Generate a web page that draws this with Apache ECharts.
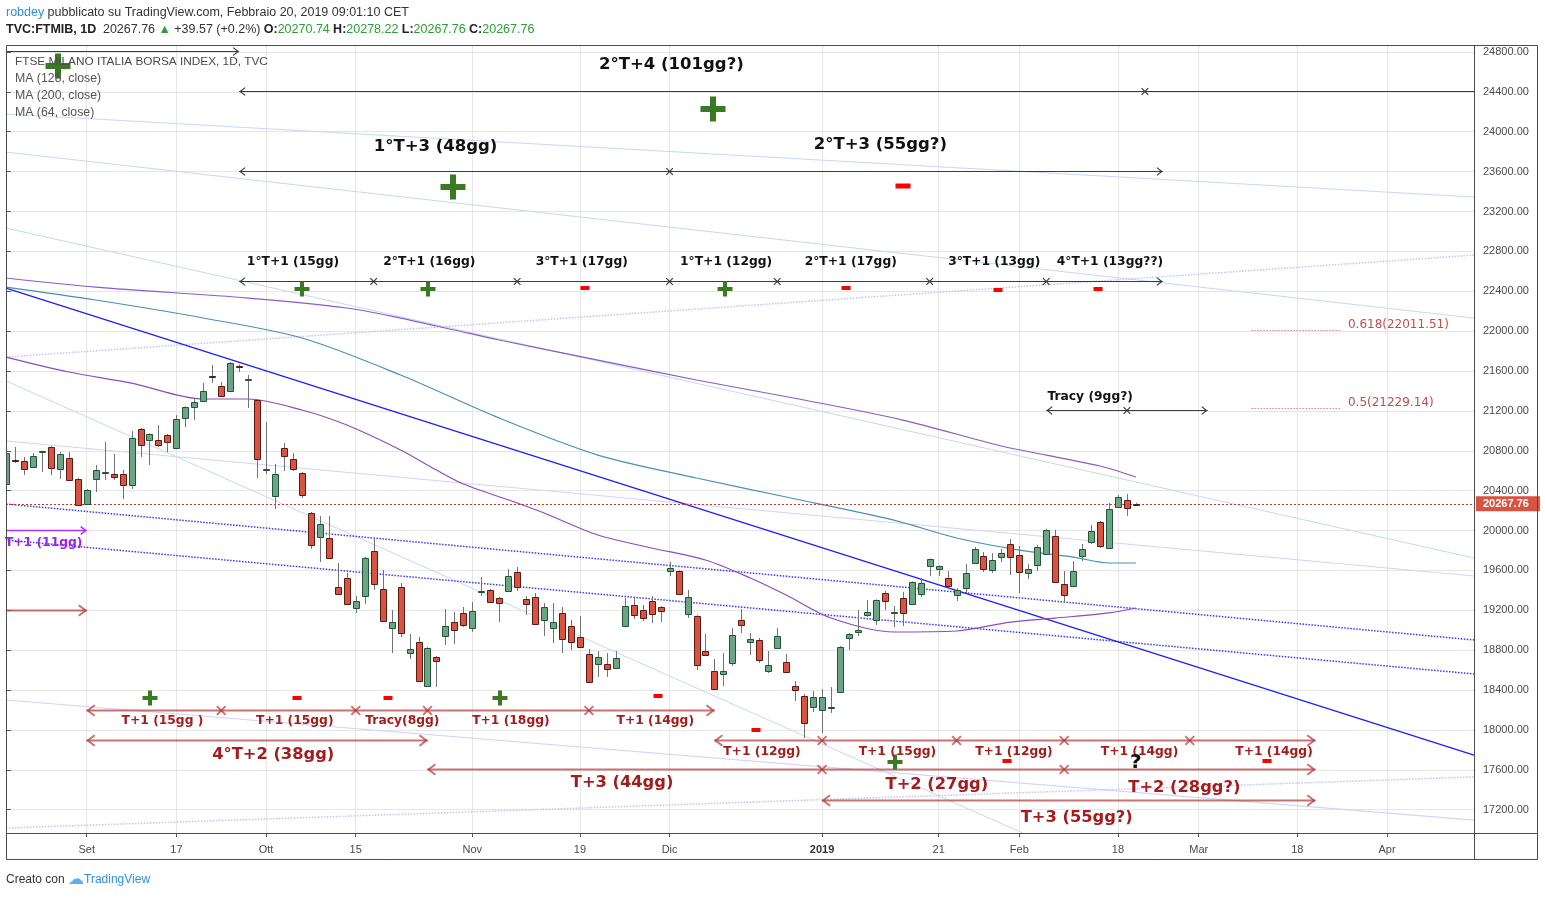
<!DOCTYPE html>
<html>
<head>
<meta charset="utf-8">
<title>FTSE MIB - cicli</title>
<script src="https://cdn.jsdelivr.net/npm/echarts@6/dist/echarts.min.js"></script>
<style>
  html, body { margin: 0; padding: 0; background: #fff; }
  #chart { width: 1545px; height: 898px; }
</style>
</head>
<body>
<div id="chart"></div>
<script>
  // one row per trading day, index 0 = 21 Aug 2018 ... 126 = 20 Feb 2019
  // [open, high, low, close]
  const candles = [
    [20466, 20787, 20456, 20777], [20712, 20838, 20677, 20702], [20697, 20737, 20557, 20617],
    [20637, 20777, 20630, 20747], [20787, 20800, 20587, 20797], [20838, 20848, 20557, 20627],
    [20617, 20787, 20517, 20767], [20727, 20787, 20500, 20507], [20517, 20530, 20246, 20256],
    [20266, 20416, 20256, 20406], [20517, 20657, 20386, 20607], [20580, 20888, 20507, 20590],
    [20567, 20767, 20507, 20537], [20567, 20607, 20316, 20457], [20457, 20998, 20417, 20928],
    [21018, 21028, 20737, 20858], [20908, 20975, 20657, 20968], [20908, 21058, 20838, 20858],
    [20958, 20968, 20787, 20888], [20828, 21158, 20818, 21118], [21128, 21245, 21038, 21239],
    [21239, 21329, 21108, 21289], [21299, 21480, 21295, 21400], [21545, 21660, 21480, 21535],
    [21450, 21490, 21345, 21349], [21400, 21690, 21395, 21680], [21655, 21665, 21590, 21645],
    [21505, 21560, 21229, 21515], [21309, 21320, 20527, 20717], [20605, 21088, 20567, 20615],
    [20346, 20667, 20216, 20567], [20828, 20878, 20597, 20747], [20717, 20777, 20597, 20617],
    [20577, 20587, 20326, 20356], [20176, 20186, 19815, 19855], [19935, 20146, 19684, 20065],
    [19925, 20146, 19720, 19724], [19434, 19674, 19360, 19364], [19524, 19574, 19255, 19263],
    [19223, 19343, 19173, 19293], [19343, 19734, 19263, 19724], [19794, 19915, 19404, 19464],
    [19414, 19604, 19085, 19093], [19022, 19203, 18771, 19082], [19434, 19474, 18932, 18972],
    [18771, 18962, 18711, 18811], [18882, 18932, 18485, 18490], [18440, 18831, 18430, 18821],
    [18731, 18741, 18430, 18691], [18942, 19213, 18852, 19042], [19082, 19183, 18862, 19002],
    [19173, 19233, 19032, 19052], [19022, 19283, 18982, 19193], [19385, 19534, 19343, 19395],
    [19404, 19414, 19275, 19283], [19323, 19333, 19082, 19273], [19394, 19614, 19385, 19544],
    [19584, 19634, 19394, 19434], [19313, 19343, 19153, 19263], [19333, 19373, 19055, 19062],
    [19103, 19273, 18942, 19233], [19022, 19273, 18872, 19082], [19173, 19233, 18771, 18912],
    [19042, 19103, 18801, 18882], [18932, 19143, 18825, 18831], [18761, 18811, 18470, 18480],
    [18661, 18791, 18531, 18731], [18661, 18771, 18531, 18611], [18621, 18791, 18611, 18721],
    [19042, 19323, 19035, 19243], [19253, 19323, 19113, 19153], [19203, 19253, 19093, 19123],
    [19293, 19343, 19072, 19163], [19233, 19240, 19082, 19193], [19594, 19684, 19544, 19624],
    [19594, 19600, 19355, 19364], [19163, 19404, 19123, 19333], [19143, 19150, 18601, 18651],
    [18791, 18962, 18745, 18751], [18591, 18711, 18405, 18410], [18561, 18771, 18440, 18591],
    [18671, 19022, 18641, 18952], [19103, 19213, 18972, 19052], [18882, 18972, 18751, 18912],
    [18902, 18922, 18671, 18701], [18591, 18791, 18571, 18651], [18821, 19022, 18815, 18942],
    [18681, 18761, 18575, 18581], [18440, 18490, 18290, 18400], [18340, 18360, 17919, 18069],
    [18230, 18390, 18180, 18330], [18200, 18410, 17969, 18330], [18215, 18430, 18170, 18225],
    [18380, 18840, 18375, 18831], [18922, 18972, 18801, 18962], [18982, 19203, 18942, 19002],
    [19153, 19303, 19133, 19183], [19103, 19310, 19052, 19303], [19373, 19394, 19203, 19293],
    [19168, 19243, 19032, 19178], [19323, 19384, 19042, 19173], [19263, 19490, 19253, 19484],
    [19364, 19524, 19333, 19474], [19644, 19720, 19544, 19714], [19614, 19650, 19544, 19644],
    [19524, 19594, 19435, 19444], [19354, 19424, 19293, 19404], [19424, 19664, 19373, 19574],
    [19674, 19835, 19664, 19815], [19744, 19784, 19584, 19614], [19604, 19774, 19574, 19704],
    [19734, 19815, 19684, 19774], [19865, 19915, 19554, 19734], [19754, 19845, 19373, 19584],
    [19574, 19664, 19514, 19614], [19654, 19855, 19594, 19835], [19764, 20018, 19755, 20008],
    [19945, 20008, 19475, 19484], [19464, 19594, 19283, 19354], [19444, 19694, 19435, 19594],
    [19744, 19865, 19694, 19815], [19885, 20055, 19865, 19995], [20085, 20095, 19825, 19845],
    [19827, 20276, 19820, 20216], [20236, 20356, 20230, 20336], [20306, 20366, 20146, 20228.19],
    [20270.74, 20278.22, 20267.76, 20267.76]
  ];
  const lastPrice = 20267.76;

  // time axis: trading-day index of each label
  const xTickPos = [9, 19, 29, 39, 52, 64, 74, 91, 104, 113, 124, 133, 144, 154];
  const xTickText = ['Set', '17', 'Ott', '15', 'Nov', '19', 'Dic', '2019', '21', 'Feb', '18', 'Mar', '18', 'Apr'];
  const xEnd = 163.7;
  const yTicks = [17200, 17600, 18000, 18400, 18800, 19200, 19600, 20000, 20400, 20800,
                  21200, 21600, 22000, 22400, 22800, 23200, 23600, 24000, 24400, 24800];

  // moving averages: [day index, value]
  const ma128 = [[0, 22442], [10, 22312], [22, 22132], [33, 21931], [44, 21560], [55, 21128],
                 [66, 20757], [77, 20527], [87, 20336], [99, 20105], [106, 19925], [113, 19804],
                 [119, 19734], [123, 19674], [126, 19674]];
  const ma200 = [[0, 22533], [10, 22442], [27, 22332], [38, 22232], [44, 22131], [50, 22011],
                 [55, 21911], [66, 21710], [77, 21510], [89, 21309], [100, 21108], [111, 20848],
                 [116, 20757], [122, 20647], [126, 20537]];
  const ma64 = [[0, 21740], [7, 21590], [14, 21479], [22, 21319], [27, 21319], [33, 21209],
                [38, 21058], [44, 20808], [48, 20607], [51, 20467], [57, 20276], [60, 20176],
                [66, 19955], [72, 19825], [78, 19704], [83, 19524], [87, 19353], [92, 19122],
                [99, 18982], [106, 18992], [112, 19082], [117, 19122], [123, 19173], [126, 19223]];

  // trend lines: [from index, from value, to index, to value]
  const blueLines = [[0, 22432, xEnd, 17748]];
  const blueDotted = [[0, 20266, xEnd, 18902], [0, 19905, xEnd, 18561]];
  const paleBlueLines = [[0, 24178, xEnd, 23345], [0, 23796, xEnd, 22131],
                         [0, 23034, xEnd, 19724], [0, 21500, 115, 16900]];
  const lavenderLines = [[0, 20898, xEnd, 19544], [0, 18300, xEnd, 17096]];
  const lavenderDotted = [[0, 21740, xEnd, 22763], [0, 17016, xEnd, 17528]];

  // fibonacci levels
  const fibRatios = ['0.618', '0.5'];
  const fibPrices = [22011.51, 21229.14];
  const fibSpan = [138.9, 148.75];

  // cycle arrows: [from, to, value, heads, cross marks]
  const blackArrows = [
    [0, 26, 24810, 'R', []],
    [26, xEnd, 24408, 'L', [127]],
    [26, 129, 23606, 'LR', [74]],
    [26, 129, 22503, 'LR', [41, 57, 74, 86, 103, 116]],
    [116, 134, 21209, 'LR', [125]]
  ];
  const redArrows = [
    [0, 9, 19203, 'R', []],
    [9, 79, 18200, 'LR', [24, 39, 47, 65]],
    [9, 47, 17899, 'LR', []],
    [79, 146, 17899, 'LR', [91, 106, 118, 132]],
    [47, 146, 17605, 'LR', [91, 118]],
    [91, 146, 17297, 'LR', []]
  ];
  const purpleArrows = [[0, 9, 20005, 'R', []]];

  // labels: [index, value, text]
  const bigBlackLabels = [[74.2, 24669, '2°T+4 (101gg?)'], [47.9, 23847, '1°T+3 (48gg)'],
                          [97.5, 23867, '2°T+3 (55gg?)']];
  const smallBlackLabels = [[32.0, 22693, '1°T+1 (15gg)'], [47.2, 22693, '2°T+1 (16gg)'],
                            [64.2, 22693, '3°T+1 (17gg)'], [80.3, 22693, '1°T+1 (12gg)'],
                            [94.2, 22693, '2°T+1 (17gg)'], [110.2, 22693, '3°T+1 (13gg)'],
                            [123.1, 22693, '4°T+1 (13gg??)'], [120.9, 21339, 'Tracy (9gg?)']];
  const smallRedLabels = [[17.45, 18089, 'T+1 (15gg )'], [32.2, 18089, 'T+1 (15gg)'],
                          [44.2, 18089, 'Tracy(8gg)'], [56.3, 18089, 'T+1 (18gg)'],
                          [72.4, 18089, 'T+1 (14gg)'], [84.3, 17781, 'T+1 (12gg)'],
                          [99.4, 17781, 'T+1 (15gg)'], [112.4, 17781, 'T+1 (12gg)'],
                          [126.4, 17781, 'T+1 (14gg)'], [141.4, 17781, 'T+1 (14gg)']];
  const bigRedLabels = [[29.8, 17748, '4°T+2 (38gg)'], [68.7, 17468, 'T+3 (44gg)'],
                        [103.8, 17448, 'T+2 (27gg)'], [131.4, 17417, 'T+2 (28gg?)'],
                        [119.4, 17116, 'T+3 (55gg?)']];
  const purpleLabels = [[4.2, 19880, 'T+1 (11gg)']];
  const questionMarks = [[126.0, 17668, '?']];

  // cycle signs: [index, value]
  const bigPlus = [[78.8, 24228], [49.8, 23445], [5.8, 24659]];
  const smallPlus = [[33.0, 22422], [47.1, 22422], [80.2, 22422], [16.1, 18320], [55.1, 18320], [99.1, 17678]];
  const bigMinus = [[100.0, 23455]];
  const smallMinus = [[64.6, 22432], [93.7, 22432], [110.6, 22412], [121.8, 22422], [32.5, 18320],
                      [42.6, 18320], [72.7, 18340], [83.6, 18000], [111.6, 17688], [140.6, 17688]];

  const ANN_FONT = '"DejaVu Sans", Verdana, sans-serif';
  const UI_FONT = '"Liberation Sans", Arial, sans-serif';

  function trendSeries(list, color, type, width) {
    return list.map(l => ({
      type: 'line', silent: true, symbol: 'none', z: 2,
      data: [[l[0], l[1]], [l[2], l[3]]],
      lineStyle: { color: color, type: type, width: width }
    }));
  }

  function maSeries(name, data, color) {
    return { name: name, type: 'line', silent: true, symbol: 'none', smooth: 0.3, z: 3,
             data: data, lineStyle: { color: color, width: 1.2 } };
  }

  function arrowSeries(list, color, width, head) {
    return {
      type: 'custom', silent: true, clip: true, z: 15,
      data: list.map(a => [a[0], a[2]]),
      encode: { x: 0, y: 1 },
      renderItem: (params, api) => {
        const [from, to, price, heads, marks] = list[params.dataIndex];
        const a = api.coord([from, price]);
        const b = api.coord([to, price]);
        const y = Math.round(a[1]) + 0.5;
        const st = { stroke: color, lineWidth: width, fill: 'none' };
        const kids = [{ type: 'line', shape: { x1: a[0], y1: y, x2: b[0], y2: y }, style: st }];
        const hw = head * 0.65;
        if (heads.indexOf('L') >= 0) {
          kids.push({ type: 'polyline', shape: { points: [[a[0] + head, y - hw], [a[0] + 1, y], [a[0] + head, y + hw]] }, style: st });
        }
        if (heads.indexOf('R') >= 0) {
          kids.push({ type: 'polyline', shape: { points: [[b[0] - head, y - hw], [b[0] - 1, y], [b[0] - head, y + hw]] }, style: st });
        }
        marks.forEach(m => {
          const x = api.coord([m, price])[0];
          const s = head * 0.55;
          kids.push({ type: 'line', shape: { x1: x - s, y1: y - s, x2: x + s, y2: y + s }, style: st });
          kids.push({ type: 'line', shape: { x1: x - s, y1: y + s, x2: x + s, y2: y - s }, style: st });
        });
        return { type: 'group', children: kids };
      }
    };
  }

  function textSeries(list, color, font) {
    return {
      type: 'custom', silent: true, clip: false, z: 20,
      data: list.map(t => [t[0], t[1]]),
      encode: { x: 0, y: 1 },
      renderItem: (params, api) => {
        const p = api.coord([api.value(0), api.value(1)]);
        return { type: 'text', x: p[0], y: p[1],
                 style: { text: list[params.dataIndex][2], fill: color, font: font, align: 'center', verticalAlign: 'middle' } };
      }
    };
  }

  function signSeries(list, color, size, thick, plus) {
    return {
      type: 'custom', silent: true, clip: false, z: 18,
      data: list,
      encode: { x: 0, y: 1 },
      renderItem: (params, api) => {
        const p = api.coord([api.value(0), api.value(1)]);
        const x = Math.round(p[0]), y = Math.round(p[1]);
        const kids = [{ type: 'rect', shape: { x: x - size / 2, y: y - thick / 2, width: size, height: thick }, style: { fill: color } }];
        if (plus) {
          kids.push({ type: 'rect', shape: { x: x - thick / 2, y: y - size / 2, width: thick, height: size }, style: { fill: color } });
        }
        return { type: 'group', children: kids };
      }
    };
  }

  const candleSeries = {
    type: 'custom', name: 'FTMIB', silent: true, clip: true, z: 10,
    data: candles.map((c, i) => [i, c[0], c[1], c[2], c[3]]),
    encode: { x: 0, y: [1, 2, 3, 4] },
    renderItem: (params, api) => {
      const i = api.value(0);
      const o = api.value(1), h = api.value(2), l = api.value(3), c = api.value(4);
      const po = api.coord([i, o]), pc = api.coord([i, c]);
      const ph = api.coord([i, h]), pl = api.coord([i, l]);
      const up = c >= o;
      const x = Math.round(po[0]);
      const top = Math.round(Math.min(po[1], pc[1]));
      const bot = Math.round(Math.max(po[1], pc[1]));
      return { type: 'group', children: [
        { type: 'line', shape: { x1: x + 0.5, y1: ph[1], x2: x + 0.5, y2: pl[1] }, style: { stroke: '#737375', lineWidth: 1 } },
        { type: 'rect', shape: { x: x - 2.5, y: top + 0.5, width: 6, height: Math.max(bot - top, 1) },
          style: { fill: up ? '#6ba583' : '#d75442', stroke: up ? '#225437' : '#5b1a13', lineWidth: 1 } }
      ] };
    }
  };

  const fibSeries = {
    type: 'custom', silent: true, clip: false, z: 12,
    data: fibPrices.map(p => [fibSpan[0], p]),
    encode: { x: 0, y: 1 },
    renderItem: (params, api) => {
      const price = fibPrices[params.dataIndex];
      const a = api.coord([fibSpan[0], price]), b = api.coord([fibSpan[1], price]);
      const y = Math.round(a[1]) + 0.5;
      return { type: 'group', children: [
        { type: 'line', shape: { x1: a[0], y1: y, x2: b[0], y2: y }, style: { stroke: '#c0504d', lineWidth: 1, lineDash: [1, 2] } },
        { type: 'text', x: b[0] + 8, y: y - 6,
          style: { text: fibRatios[params.dataIndex] + '(' + price.toFixed(2) + ')', fill: '#c0504d',
                   font: '12px ' + ANN_FONT, align: 'left', verticalAlign: 'middle' } }
      ] };
    }
  };

  const priceSeries = {
    type: 'line', silent: true, symbol: 'none', z: 4,
    data: [[candles.length - 1, lastPrice]],
    markLine: {
      silent: true, symbol: ['none', 'none'], animation: false,
      data: [{ yAxis: lastPrice }],
      lineStyle: { color: '#c0392b', type: [2, 2], width: 1 },
      label: { show: true, position: 'end', distance: 2, formatter: lastPrice.toFixed(2),
               backgroundColor: '#d75442', color: '#fff', fontWeight: 'bold', fontSize: 11,
               fontFamily: UI_FONT, padding: [2, 11, 2, 7] }
    }
  };

  const series = [].concat(
    trendSeries(paleBlueLines, '#c7d8f3', 'solid', 1),
    trendSeries(lavenderLines, '#d3d3f7', 'solid', 1.2),
    trendSeries(lavenderDotted, '#c4c4f4', 'dotted', 1.5),
    trendSeries(blueDotted, '#3a3aff', 'dotted', 1.5),
    trendSeries(blueLines, '#1f1fff', 'solid', 1.3),
    [
      maSeries('MA (128, close)', ma128, '#4b8fb3'),
      maSeries('MA (200, close)', ma200, '#8a5cc6'),
      maSeries('MA (64, close)', ma64, '#8c4cbd'),
      priceSeries,
      candleSeries,
      fibSeries,
      arrowSeries(blackArrows, '#3c3c3c', 1.2, 6),
      arrowSeries(redArrows, 'rgba(180,60,60,0.72)', 2, 8),
      arrowSeries(purpleArrows, '#b030ff', 1.5, 6),
      textSeries(bigBlackLabels, '#111', 'bold 16.5px ' + ANN_FONT),
      textSeries(smallBlackLabels, '#111', 'bold 12.3px ' + ANN_FONT),
      textSeries(smallRedLabels, '#a51c1c', 'bold 12.3px ' + ANN_FONT),
      textSeries(bigRedLabels, '#a51c1c', 'bold 16.3px ' + ANN_FONT),
      textSeries(purpleLabels, '#a020f0', 'bold 12.3px ' + ANN_FONT),
      textSeries(questionMarks, '#111', 'bold 20px ' + ANN_FONT),
      signSeries(bigPlus, '#3a7a22', 25, 6, true),
      signSeries(smallPlus, '#3a7a22', 15, 4, true),
      signSeries(bigMinus, '#ff0000', 15, 5, false),
      signSeries(smallMinus, '#ff0000', 9, 4, false)
    ]
  );

  const option = {
    animation: false,
    backgroundColor: '#fff',
    grid: { left: 6, top: 45, width: 1468, height: 788 },
    xAxis: {
      type: 'value', min: 0, max: xEnd,
      axisLine: { show: false },
      axisTick: { show: true, length: 4, customValues: xTickPos, lineStyle: { color: '#555' } },
      axisLabel: {
        customValues: xTickPos, margin: 11, color: '#4a4a4a', fontSize: 11, fontFamily: UI_FONT,
        formatter: v => {
          const t = xTickText[xTickPos.indexOf(v)];
          return t === '2019' ? '{b|2019}' : t;
        },
        rich: { b: { fontWeight: 'bold', color: '#333', fontSize: 11, fontFamily: UI_FONT } }
      },
      splitLine: { show: true, lineStyle: { color: '#e6e6e6', width: 1 } }
    },
    yAxis: {
      type: 'value', position: 'right', min: 16966, max: 24870,
      axisLine: { show: false },
      axisTick: { show: true, length: 5, customValues: yTicks, lineStyle: { color: '#555' } },
      axisLabel: { customValues: yTicks, margin: 9, color: '#4a4a4a', fontSize: 11, fontFamily: UI_FONT,
                   formatter: v => v.toFixed(2) },
      splitLine: { show: true, lineStyle: { color: '#e6e6e6', width: 1 } }
    },
    graphic: [
      { type: 'rect', shape: { x: 6.5, y: 45.5, width: 1531, height: 814 }, style: { fill: 'none', stroke: '#4d4d4d', lineWidth: 1 }, z: 100 },
      { type: 'line', shape: { x1: 1474.5, y1: 45, x2: 1474.5, y2: 860 }, style: { stroke: '#4d4d4d', lineWidth: 1 }, z: 100 },
      { type: 'line', shape: { x1: 6, y1: 833.5, x2: 1538, y2: 833.5 }, style: { stroke: '#4d4d4d', lineWidth: 1 }, z: 100 },
      { type: 'text', x: 6, y: 12.5, z: 100, style: {
          text: '{a|robdey} {n|pubblicato su TradingView.com, Febbraio 20, 2019 09:01:10 CET}',
          verticalAlign: 'middle',
          rich: { a: { fill: '#2f8fdc', fontSize: 12.5, fontFamily: UI_FONT },
                  n: { fill: '#333', fontSize: 12.5, fontFamily: UI_FONT } } } },
      { type: 'text', x: 6, y: 29.5, z: 100, style: {
          text: '{b|TVC:FTMIB, 1D}  {n|20267.76} {g|▲}{n| +39.57 (+0.2%)} {b|O:}{g|20270.74} {b|H:}{g|20278.22} {b|L:}{g|20267.76} {b|C:}{g|20267.76}',
          verticalAlign: 'middle',
          rich: { b: { fill: '#222', fontWeight: 'bold', fontSize: 12.5, fontFamily: UI_FONT },
                  n: { fill: '#333', fontSize: 12.5, fontFamily: UI_FONT },
                  g: { fill: '#2aa033', fontSize: 12.5, fontFamily: UI_FONT } } } },
      { type: 'text', x: 15, y: 61.5, z: 100, style: { text: 'FTSE MILANO ITALIA BORSA INDEX, 1D, TVC', fill: '#4a4a4a', fontSize: 11.8, fontFamily: UI_FONT, verticalAlign: 'middle' } },
      { type: 'text', x: 15, y: 78.5, z: 100, style: { text: 'MA (128, close)', fill: '#555', fontSize: 12.3, fontFamily: UI_FONT, verticalAlign: 'middle' } },
      { type: 'text', x: 15, y: 95.5, z: 100, style: { text: 'MA (200, close)', fill: '#555', fontSize: 12.3, fontFamily: UI_FONT, verticalAlign: 'middle' } },
      { type: 'text', x: 15, y: 112.5, z: 100, style: { text: 'MA (64, close)', fill: '#555', fontSize: 12.3, fontFamily: UI_FONT, verticalAlign: 'middle' } },
      { type: 'text', x: 6, y: 880, z: 100, style: {
          text: '{n|Creato con} {c|☁}{t|TradingView}', verticalAlign: 'middle',
          rich: { n: { fill: '#333', fontSize: 12, fontFamily: UI_FONT },
                  c: { fill: '#5ab0f0', fontSize: 16, fontFamily: ANN_FONT },
                  t: { fill: '#2f8fdc', fontSize: 12, fontFamily: UI_FONT } } } }
    ],
    series: series
  };

  const chart = echarts.init(document.getElementById('chart'));
  chart.setOption(option);
</script>
</body>
</html>
